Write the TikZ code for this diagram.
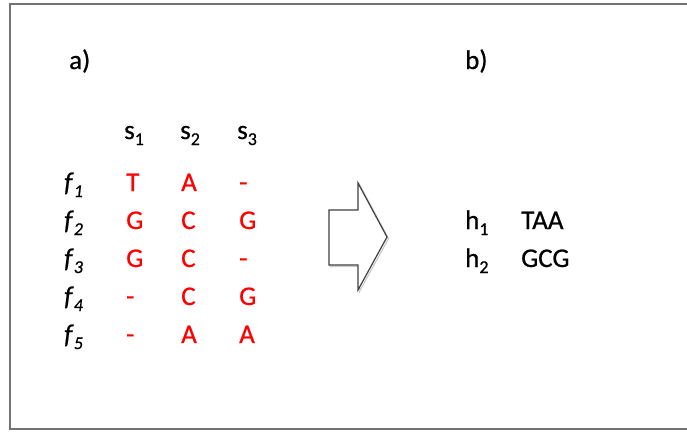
\documentclass[tikz,border=0pt]{standalone}
\usepackage{fontspec}
\setmainfont{Carlito}[FakeBold=0.6]
\newcommand{\subs}[1]{{\fontsize{18}{18}\selectfont\raisebox{-6pt}{#1}}}
\begin{document}
\begin{tikzpicture}[x=1pt,y=-1pt,
  txt/.style={inner sep=0pt,anchor=base west,font=\fontsize{27}{30}\selectfont},
  red/.style={txt,text=red},
  frame/.style={draw=black!55,line width=1.6pt},
  bigarrow/.style={draw=black!75,line width=1.2pt,line join=miter,fill=white}]
\useasboundingbox (0,0) rectangle (687,431);
\fill[white] (0,0) rectangle (687,431);
% frame (right edge out of view)
\draw[frame] (690,4) -- (10,4) -- (10,429) -- (690,429);
% labels
\node[txt] (la) at (69,69) {a)};
\node[txt] (lb) at (465,69) {b)};
% headers
\node[txt] (s1) at (124,139) {s\subs{1}};
\node[txt] (s2) at (180,139) {s\subs{2}};
\node[txt] (s3) at (237,139) {s\subs{3}};
% rows
\foreach \i/\a/\b/\c [count=\k from 0] in {1/T/A/-,2/G/C/G,3/G/C/-,4/-/C/G,5/-/A/A}{
  \pgfmathsetmacro{\yy}{191+38*\k}
  \node[txt] (f\i) at (64,\yy) {\textit{f}\subs{\textit{\i}}};
  \node[red] (c\i a) at (126,\yy) {\a};
  \node[red] (c\i b) at (181,\yy) {\b};
  \node[red] (c\i c) at (239,\yy) {\c};
}
% arrow
\draw[bigarrow,draw=black!20,fill=none,shift={(1.5,1.5)}] (329,210) -- (358,210) -- (358,183) -- (387,237) -- (358,290) -- (358,265) -- (329,265) -- cycle;
\draw[bigarrow] (329,210) -- (358,210) -- (358,183) -- (387,237) -- (358,290) -- (358,265) -- (329,265) -- cycle;
% result
\node[txt] (h1) at (465,229) {h\subs{1}};
\node[txt] (t1) at (521,229) {TAA};
\node[txt] (h2) at (465,267) {h\subs{2}};
\node[txt] (t2) at (521,267) {GCG};
\end{tikzpicture}
\end{document}
